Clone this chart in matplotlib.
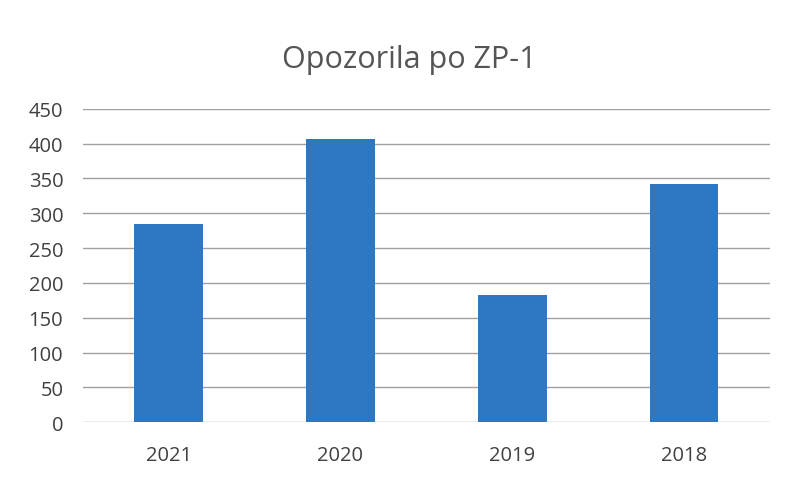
import matplotlib
matplotlib.use("Agg")
import matplotlib.pyplot as plt

# data
years = ["2021", "2020", "2019", "2018"]
warnings = [284, 407, 183, 342]
y_ticks = [0, 50, 100, 150, 200, 250, 300, 350, 400, 450]

plt.rcParams['font.family'] = ['Open Sans', 'DejaVu Sans']

fig = plt.figure(figsize=(7.88, 4.81), dpi=100)
ax = fig.add_axes([0.105, 0.12, 0.872, 0.652])

ax.bar(range(len(years)), warnings, width=0.4, color="#2e78c2", zorder=3)

ax.set_xlim(-0.5, len(years) - 0.5)
ax.set_ylim(0, 450)
ax.set_yticks(y_ticks)
ax.set_xticks(range(len(years)))
ax.set_xticklabels(years)
ax.grid(axis="y", color="#a0a0a0", linewidth=1, zorder=0)
ax.tick_params(axis="both", length=0, labelsize=14.5, labelcolor="#404040")
ax.tick_params(axis="y", pad=14)
ax.tick_params(axis="x", pad=16)
for s in ax.spines.values():
    s.set_visible(False)

fig.text(0.52, 0.875, "Opozorila po ZP-1", ha="center", va="center",
         fontsize=22, color="#555555")

fig.savefig("out.png", dpi=100)
